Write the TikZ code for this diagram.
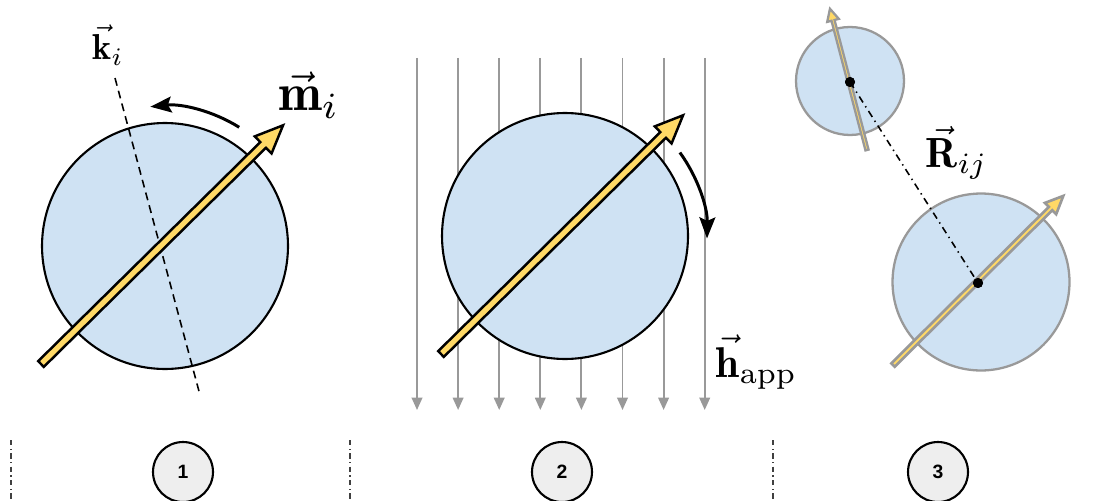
\documentclass[tikz,border=0pt]{standalone}
\usepackage{fontspec}
\newfontfamily\numfont{Liberation Sans}
\usetikzlibrary{arrows.meta,calc}
\definecolor{ballblue}{RGB}{207,226,243}
\definecolor{magyellow}{RGB}{255,217,102}
\definecolor{fieldgray}{RGB}{153,153,153}
\definecolor{numgray}{RGB}{238,238,238}
\tikzset{
  pics/magnet/.style n args={4}{code={
    \draw[pic actions] (0,-#2) -- (#1-#4,-#2) -- (#1-#4,-#3) -- (#1,0) -- (#1-#4,#3) -- (#1-#4,#2) -- (0,#2) -- cycle;
  }},
  bigball/.style={circle,draw=black,fill=ballblue,line width=1.2pt,minimum size=4.92cm,inner sep=0pt},
  graybig/.style={circle,draw=fieldgray,fill=ballblue,line width=1.3pt,minimum size=3.54cm,inner sep=0pt},
  graysmall/.style={circle,draw=fieldgray,fill=ballblue,line width=1.3pt,minimum size=2.16cm,inner sep=0pt},
  field/.style={draw=fieldgray,line width=1.1pt,-{Triangle[length=7pt,width=6pt]}},
  turn/.style={line width=1.7pt,-{Stealth[length=12pt,width=9pt,inset=2pt]}},
  lbl/.style={inner sep=0pt,anchor=base west,font=\fontsize{10}{12}\selectfont},
  centerdot/.style={circle,fill=black,minimum size=0.2cm,inner sep=0pt},
  sep/.style={draw=black!75,line width=0.6pt,dash pattern=on 3pt off 2pt on 0.6pt off 2pt},
  numcirc/.style={circle,draw=black,fill=numgray,line width=1.2pt,minimum size=1.2cm,inner sep=0pt,font=\numfont\bfseries\fontsize{11}{13}\selectfont},
}
\begin{document}
\begin{tikzpicture}[x=0.02cm,y=0.02cm]
\useasboundingbox (0,0) rectangle (1101,-500);

% ---------- panel 1 ----------
\node[bigball] (c1) at (165,-246) {};
\coordinate (ka) at (115,-78);
\coordinate (kb) at (200,-395);
\draw[line width=0.9pt,dash pattern=on 4.5pt off 3pt] (ka) -- (kb);
\pic[rotate=44.6,draw=black,fill=magyellow,line width=1.4pt,miter limit=10] at (41,-364) {magnet={340}{4}{12}{28}};
\draw[turn] ($(c1.center)+(58:140)$) arc[start angle=58,end angle=96,radius=140];
\node[lbl,scale=2.05] (kl) at (92,-60) {$\vec{\mathbf{k}}_i$};
\node[lbl,scale=3.0] (ml) at (277,-111) {$\vec{\mathbf{m}}_i$};

% ---------- panel 2 ----------
\foreach \i in {0,...,7}{
  \coordinate (ft\i) at (417+41.1*\i,-58);
  \coordinate (fb\i) at (417+41.1*\i,-410);
  \draw[field] (ft\i) -- (fb\i);
}
\node[bigball] (c2) at (565,-236) {};
\pic[rotate=44.6,draw=black,fill=magyellow,line width=1.4pt,miter limit=10] at (441,-354) {magnet={340}{4}{12}{28}};
\draw[turn] ($(c2.center)+(36:142)$) arc[start angle=36,end angle=-1,radius=142];
\node[lbl,scale=2.45] (hl) at (715,-377) {$\vec{\mathbf{h}}_{\mathrm{app}}$};

% ---------- panel 3 ----------
\node[graysmall] (c3a) at (850,-81) {};
\node[graybig] (c3b) at (981,-282) {};
\pic[rotate=104.7,draw=fieldgray,fill=magyellow,line width=1.3pt,miter limit=10] at (867,-150) {magnet={146}{1.6}{6}{12}};
\pic[rotate=44.8,draw=fieldgray,fill=magyellow,line width=1.5pt,miter limit=10] at (893,-365) {magnet={240}{2.4}{8}{18}};
\node[centerdot] (d1) at (850,-82) {};
\node[centerdot] (d2) at (978,-283) {};
\draw[line width=0.9pt,dash pattern=on 4pt off 2.5pt on 0.8pt off 2.5pt] (d1.center) -- (d2.center);
\node[centerdot] at (d1) {};
\node[centerdot] at (d2) {};
\node[lbl,scale=2.4] (rl) at (925,-167) {$\vec{\mathbf{R}}_{ij}$};

% ---------- bottom ----------
\foreach \x [count=\j] in {11,350,773}{
  \coordinate (st\j) at (\x,-440);
  \coordinate (sb\j) at (\x,-502);
  \draw[sep] (st\j) -- (sb\j);
}
\node[numcirc] (n1) at (183,-472) {1};
\node[numcirc] (n2) at (562,-472) {2};
\node[numcirc] (n3) at (938,-472) {3};
\end{tikzpicture}
\end{document}
